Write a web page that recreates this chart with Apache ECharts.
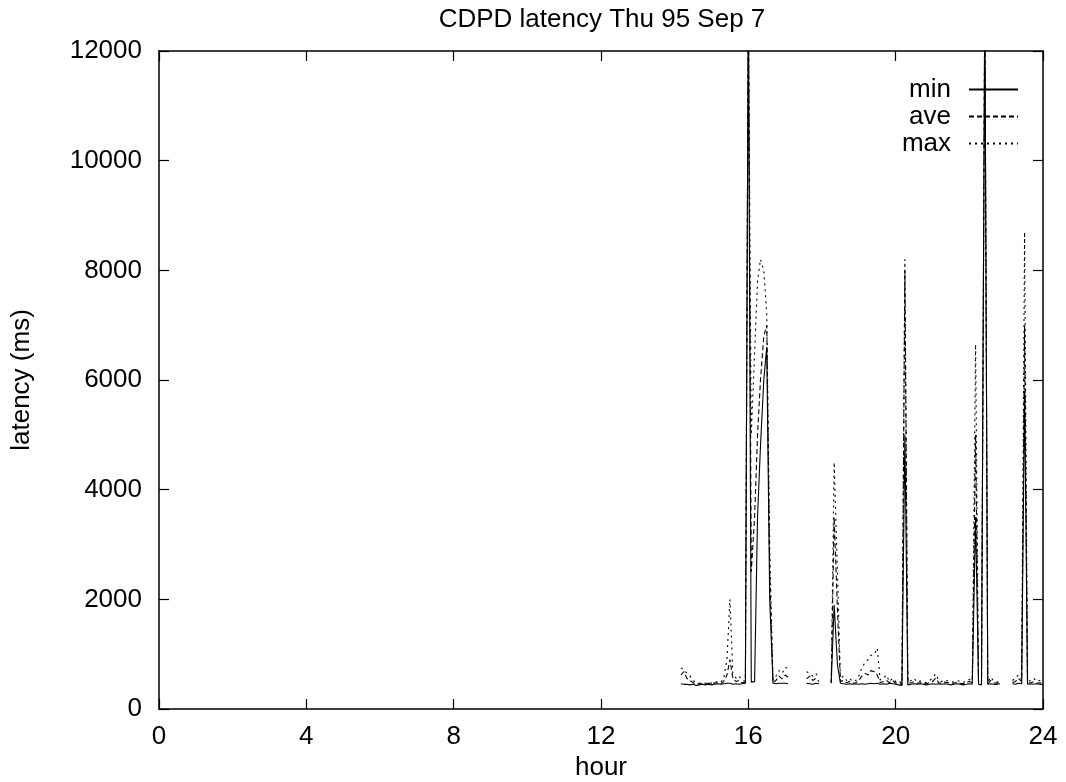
<!DOCTYPE html>
<html>
<head>
<meta charset="utf-8">
<script src="https://cdn.jsdelivr.net/npm/echarts@6/dist/echarts.min.js"></script>
<style>
html,body{margin:0;padding:0;background:#fff;}
#chart{width:1066px;height:782px;}
</style>
</head>
<body>
<div id="chart"></div>
<script>
// ---- data (hour of day, latency in ms) ----
const hours = [
  14.17,14.25,14.33,14.42,14.50,14.58,14.67,14.75,14.83,14.92,
  15.00,15.08,15.17,15.25,15.33,15.42,15.50,15.58,15.67,15.75,15.83,15.92,
  16.00,16.08,16.17,16.25,16.33,16.42,16.50,16.58,16.67,16.75,16.83,16.92,
  17.00,17.08,17.17,
  17.58,17.67,17.75,17.83,17.92,18.00,
  18.25,18.33,18.42,18.50,18.58,18.67,18.75,18.83,18.92,
  19.00,19.08,19.17,19.25,19.33,19.42,19.50,19.58,19.67,19.75,19.83,19.92,
  20.00,20.08,20.17,20.25,20.33,20.42,20.50,20.58,20.67,20.75,20.83,20.92,
  21.00,21.08,21.17,21.25,21.33,21.42,21.50,21.58,21.67,21.75,21.83,21.92,
  22.00,22.08,22.17,22.25,22.33,22.42,22.50,22.58,22.67,22.75,22.83,22.92,
  23.17,23.25,23.33,23.42,23.50,23.58,23.67,23.75,23.83,23.92,24.00
];
const minLatency = [
  460,450,450,440,450,430,440,450,440,450,
  440,450,460,450,460,470,470,450,460,450,460,470,
  13000,490,500,3500,4800,6000,6600,2000,470,460,470,470,
  470,460,null,
  470,460,450,470,460,null,
  470,1900,800,470,460,450,460,450,460,
  450,460,450,460,470,460,470,450,460,450,470,460,
  450,440,430,5000,440,450,460,450,460,450,440,450,
  460,450,460,450,460,450,440,450,460,450,440,450,
  460,450,3500,450,440,13000,450,460,450,450,460,null,
  460,450,470,460,5800,450,460,450,460,450,450
];
const aveLatency = [
  620,680,560,520,480,450,460,460,450,470,
  460,480,470,460,500,620,900,560,500,520,480,490,
  13000,2500,3500,5000,6000,6800,7000,2500,480,520,600,550,
  620,580,null,
  550,600,520,560,500,null,
  480,3500,1800,500,520,480,500,470,480,
  520,600,650,620,700,680,620,480,500,520,480,520,
  470,480,440,8000,460,480,500,470,480,470,460,480,
  500,560,480,470,490,480,470,470,490,470,460,480,
  500,480,5000,470,460,13000,460,520,480,470,480,null,
  480,500,560,500,7000,470,480,500,470,480,470
];
const maxLatency = [
  750,720,650,600,520,480,470,480,470,490,
  470,500,490,480,560,900,2000,650,560,600,520,510,
  13000,5000,6500,7800,8200,8000,7200,3000,520,600,700,650,
  760,740,null,
  680,650,600,650,560,null,
  500,4500,2500,550,600,520,560,500,520,
  600,750,850,900,980,1000,1110,530,560,620,500,560,
  500,520,460,8200,500,520,560,490,510,500,480,520,
  560,640,520,500,530,510,500,490,520,500,480,520,
  540,510,6650,480,470,13000,480,580,500,490,500,null,
  520,560,620,540,8700,500,520,560,500,520,490
];
const seriesNames = ['min','ave','max'];
const xTicks = [0,4,8,12,16,20,24];

// ---- chart ----
const FONT = '"Liberation Sans", Arial, Helvetica, sans-serif';
const FS = 26;
const chart = echarts.init(document.getElementById('chart'), null, {renderer:'canvas'});
function pairs(vals){ return hours.map((h,i)=>[h, vals[i]==null ? '-' : vals[i]]); }

function axisCommon(){
  return {
    axisLine:{show:true, onZero:false, lineStyle:{color:'#000', width:1.5}},
    axisTick:{show:true, inside:true, length:10, lineStyle:{color:'#000', width:1.2}},
    splitLine:{show:false}
  };
}

const option = {
  animation:false,
  backgroundColor:'#fff',
  title:{
    text:'CDPD latency Thu 95 Sep 7',
    left:597, top:2, textAlign:'center',
    textStyle:{fontFamily:FONT, fontSize:FS, fontWeight:'normal', color:'#000'}
  },
  legend:{
    data:seriesNames,
    orient:'vertical',
    align:'right',
    right:42, top:71,
    itemWidth:49, itemHeight:14, itemGap:0,
    itemStyle:{opacity:0},
    textStyle:{fontFamily:FONT, fontSize:FS, color:'#000', padding:[0,13,0,0], lineHeight:27}
  },
  grid:{left:159, right:23, top:51, bottom:73, containLabel:false, outerBoundsMode:'none'},
  xAxis:[
    Object.assign(axisCommon(), {
      type:'value', min:0, max:24, interval:4, position:'bottom',
      name:'hour', nameLocation:'middle', nameGap:43,
      nameTextStyle:{fontFamily:FONT, fontSize:FS, color:'#000'},
      axisLabel:{fontFamily:FONT, fontSize:FS, color:'#000', margin:15,
        formatter:v=> xTicks.includes(v) ? String(v) : ''}
    }),
    Object.assign(axisCommon(), {
      type:'value', min:0, max:24, interval:4, position:'top',
      axisLabel:{show:false}
    })
  ],
  yAxis:[
    Object.assign(axisCommon(), {
      type:'value', min:0, max:12000, interval:2000, position:'left',
      name:'latency (ms)', nameLocation:'middle', nameGap:124, nameRotate:90,
      nameTextStyle:{fontFamily:FONT, fontSize:FS, color:'#000'},
      axisLabel:{fontFamily:FONT, fontSize:FS, color:'#000', margin:17,
        formatter:v=>String(v)}
    }),
    Object.assign(axisCommon(), {
      type:'value', min:0, max:12000, interval:2000, position:'right',
      axisLabel:{show:false}
    })
  ],
  series:[
    {name:'min', type:'line', data:pairs(minLatency), symbol:'none', clip:true,
     connectNulls:false, lineStyle:{color:'#000', width:1.1, type:'solid'}, itemStyle:{color:'#000'}},
    {name:'ave', type:'line', data:pairs(aveLatency), symbol:'none', clip:true,
     connectNulls:false, lineStyle:{color:'#000', width:1.1, type:[5,3]}, itemStyle:{color:'#000'}},
    {name:'max', type:'line', data:pairs(maxLatency), symbol:'none', clip:true,
     connectNulls:false, lineStyle:{color:'#000', width:1.1, type:[2,4]}, itemStyle:{color:'#000'}}
  ]
};
chart.setOption(option);
</script>
</body>
</html>
